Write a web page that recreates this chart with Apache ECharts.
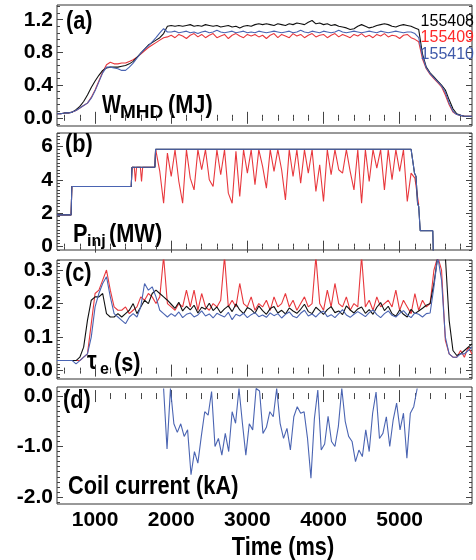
<!DOCTYPE html>
<html>
<head>
<meta charset="utf-8">
<script src="https://cdn.jsdelivr.net/npm/echarts@6/dist/echarts.min.js"></script>
<style>
html, body { margin: 0; padding: 0; background: #fff; }
#main { width: 476px; height: 560px; }
</style>
</head>
<body>
<div id="main"></div>
<script>
const FONT = '"Liberation Sans", Arial, Helvetica, sans-serif';

// sample times (ms)
function steps(start, end, step) {
    const out = [];
    for (let k = 0; start + k * step <= end + step / 1000; k++) {
        out.push(Math.round((start + k * step) * 10000) / 10000);
    }
    return out;
}
const t50 = steps(500, 5950, 50);

// (a) W_MHD (MJ)
const wmhd408 = [
    0.05, 0.05, 0.06, 0.06, 0.07, 0.10, 0.14, 0.20, 0.28, 0.37,
    0.45, 0.52, 0.58, 0.61, 0.62, 0.62, 0.62, 0.63, 0.64, 0.66,
    0.69, 0.74, 0.79, 0.84, 0.89, 0.92, 0.95, 0.98, 1.03, 1.12,
    1.13, 1.12, 1.13, 1.12, 1.13, 1.14, 1.12, 1.13, 1.12, 1.14,
    1.13, 1.12, 1.13, 1.11, 1.12, 1.13, 1.11, 1.12, 1.10, 1.12,
    1.13, 1.12, 1.14, 1.15, 1.14, 1.15, 1.14, 1.13, 1.15, 1.14,
    1.13, 1.15, 1.14, 1.16, 1.15, 1.14, 1.17, 1.19, 1.15, 1.16,
    1.14, 1.15, 1.13, 1.14, 1.12, 1.11, 1.10, 1.08, 1.09, 1.12,
    1.14, 1.12, 1.10, 1.11, 1.13, 1.14, 1.15, 1.14, 1.12, 1.11,
    1.13, 1.14, 1.13, 1.12, 1.10, 1.08, 0.78, 0.62, 0.55, 0.50,
    0.45, 0.40, 0.34, 0.22, 0.11, 0.05, 0.03, 0.02, 0.02, 0.02
];
const wmhd409 = [
    0.05, 0.05, 0.06, 0.06, 0.07, 0.09, 0.12, 0.15, 0.18, 0.25,
    0.34, 0.45, 0.56, 0.65, 0.68, 0.66, 0.66, 0.67, 0.67, 0.69,
    0.71, 0.74, 0.78, 0.82, 0.86, 0.89, 0.92, 0.95, 0.98, 0.99,
    1.01, 0.98, 1.02, 1.00, 0.97, 1.01, 1.03, 0.99, 1.02, 0.98,
    1.01, 1.03, 0.98, 1.00, 1.02, 0.97, 1.01, 1.03, 1.00, 0.98,
    1.02, 1.00, 1.02, 0.99, 1.01, 0.97, 1.01, 1.03, 0.98, 1.02,
    1.00, 0.98, 1.03, 1.00, 1.02, 0.98, 1.01, 1.03, 0.99, 1.01,
    1.02, 0.98, 1.01, 1.03, 0.99, 1.02, 1.00, 0.98, 1.02, 1.00,
    1.03, 0.99, 1.01, 0.98, 1.02, 1.00, 1.03, 0.99, 1.01, 1.00,
    0.97, 1.01, 1.02, 0.98, 0.96, 0.93, 0.72, 0.60, 0.53, 0.48,
    0.43, 0.38, 0.28, 0.16, 0.07, 0.04, 0.03, 0.02, 0.02, 0.02
];
const wmhd410 = [
    0.05, 0.05, 0.06, 0.06, 0.07, 0.09, 0.12, 0.15, 0.18, 0.24,
    0.33, 0.44, 0.55, 0.62, 0.62, 0.61, 0.60, 0.58, 0.58, 0.62,
    0.67, 0.73, 0.79, 0.84, 0.88, 0.93, 0.98, 1.04, 1.09, 1.05,
    1.05, 1.06, 1.04, 1.05, 1.06, 1.04, 1.05, 1.03, 1.05, 1.06,
    1.04, 1.05, 1.07, 1.05, 1.04, 1.05, 1.06, 1.04, 1.05, 1.06,
    1.04, 1.05, 1.04, 1.06, 1.05, 1.04, 1.05, 1.06, 1.05, 1.04,
    1.05, 1.06, 1.04, 1.05, 1.07, 1.05, 1.04, 1.06, 1.05, 1.04,
    1.06, 1.05, 1.04, 1.05, 1.07, 1.05, 1.04, 1.05, 1.06, 1.05,
    1.04, 1.05, 1.06, 1.05, 1.04, 1.06, 1.05, 1.04, 1.05, 1.06,
    1.05, 1.04, 1.05, 1.05, 1.03, 0.98, 0.75, 0.61, 0.54, 0.49,
    0.44, 0.39, 0.31, 0.18, 0.08, 0.04, 0.03, 0.02, 0.02, 0.02
];

// (b) P_inj (MW): 155408 and 155410 share the same waveform
const pinjTimes = [500, 685, 695, 1475, 1485, 1785, 1795, 5150, 5195, 5215, 5235, 5250, 5270, 5435, 5445];
const pinjShared = [1.9, 1.9, 3.6, 3.6, 4.75, 4.75, 5.83, 5.83, 4.4, 4.2, 2.6, 2.4, 0.95, 0.95, -1];
const pinjRedTimes = [500, 685, 695, 1475, 1485, 1515, 1530, 1545, 1595, 1610, 1625, 1785, 1795]
    .concat(steps(1850, 5250, 50));
const pinj409 = [
    1.9, 1.9, 3.6, 3.6, 4.75, 4.75, 3.9, 4.75, 4.75, 3.9, 4.75, 4.75, 5.83,
    4.5, 2.6, 5.6, 4.2, 5.8, 3.9, 2.6, 5.8, 4.1, 3.4,
    5.8, 4.6, 5.8, 4.0, 3.6, 5.8, 4.3, 5.8, 3.2, 2.6,
    5.7, 3.0, 5.8, 4.4, 5.8, 3.7, 5.8, 4.8, 3.5, 5.8,
    4.5, 5.8, 4.6, 2.8, 5.8, 4.2, 5.8, 3.8, 5.8, 4.4,
    5.8, 3.3, 4.9, 2.7, 5.8, 4.3, 5.8, 4.6, 4.4, 5.8,
    4.5, 3.4, 5.8, 2.6, 5.8, 3.9, 5.8, 4.7, 5.8, 3.4,
    5.8, 4.0, 5.8, 4.5, 5.8, 2.7, 4.4, 4.1, 2.5
];

// (c) tau_e (s)
const tau408 = [
    0.03, 0.03, 0.03, 0.03, 0.03, 0.03, 0.04, 0.07, 0.15, 0.21,
    0.22, 0.22, 0.23, 0.17, 0.16, 0.16, 0.17, 0.16, 0.17, 0.18,
    0.20, 0.17, 0.19, 0.21, 0.20, 0.23, 0.24, 0.23, 0.22, 0.21,
    0.198, 0.186, 0.204, 0.178, 0.192, 0.181, 0.195, 0.172, 0.189, 0.183,
    0.201, 0.179, 0.190, 0.172, 0.184, 0.193, 0.176, 0.199, 0.181, 0.170,
    0.188, 0.182, 0.171, 0.193, 0.179, 0.168, 0.185, 0.191, 0.172, 0.180,
    0.169, 0.187, 0.178, 0.171, 0.183, 0.198, 0.176, 0.170, 0.189, 0.179,
    0.168, 0.182, 0.191, 0.173, 0.178, 0.167, 0.193, 0.181, 0.172, 0.184,
    0.190, 0.171, 0.182, 0.168, 0.189, 0.203, 0.179, 0.192, 0.170, 0.162,
    0.181, 0.168, 0.160, 0.183, 0.170, 0.178, 0.186, 0.195, 0.200, 0.260,
    0.340, 0.340, 0.340, 0.150, 0.060, 0.045, 0.050, 0.060, 0.070, 0.080
];
const tau409 = [
    0.03, 0.03, 0.03, 0.03, 0.03, 0.03, 0.03, 0.04, 0.05, 0.14,
    0.23, 0.24, 0.27, 0.30, 0.24, 0.19, 0.18, 0.18, 0.19, 0.17,
    0.18, 0.19, 0.22, 0.21, 0.23, 0.22, 0.20, 0.22, 0.34, 0.20,
    0.19, 0.18, 0.20, 0.19, 0.24, 0.19, 0.24, 0.18, 0.23, 0.19,
    0.18, 0.20, 0.19, 0.21, 0.34, 0.19, 0.21, 0.19, 0.26, 0.20,
    0.19, 0.22, 0.18, 0.20, 0.19, 0.21, 0.18, 0.22, 0.19, 0.20,
    0.23, 0.19, 0.21, 0.18, 0.20, 0.22, 0.19, 0.20, 0.34, 0.20,
    0.18, 0.24, 0.19, 0.26, 0.20, 0.19, 0.22, 0.18, 0.20, 0.19,
    0.34, 0.19, 0.21, 0.18, 0.22, 0.19, 0.20, 0.21, 0.19, 0.24,
    0.18, 0.21, 0.19, 0.17, 0.23, 0.18, 0.21, 0.19, 0.20, 0.30,
    0.34, 0.30, 0.09, 0.05, 0.04, 0.04, 0.06, 0.04, 0.07, 0.05
];
const tau410 = [
    0.03, 0.03, 0.03, 0.03, 0.03, 0.02, 0.03, 0.04, 0.05, 0.10,
    0.19, 0.23, 0.26, 0.28, 0.22, 0.17, 0.16, 0.15, 0.14, 0.16,
    0.17, 0.16, 0.19, 0.26, 0.24, 0.25, 0.22, 0.18, 0.17, 0.16,
    0.170, 0.162, 0.175, 0.158, 0.168, 0.172, 0.160, 0.166, 0.178, 0.163,
    0.169, 0.157, 0.171, 0.165, 0.160, 0.174, 0.152, 0.168, 0.163, 0.171,
    0.158, 0.167, 0.173, 0.161, 0.166, 0.159, 0.172, 0.164, 0.170, 0.157,
    0.168, 0.175, 0.162, 0.158, 0.171, 0.180, 0.163, 0.169, 0.160, 0.172,
    0.178, 0.161, 0.167, 0.158, 0.170, 0.182, 0.166, 0.159, 0.168, 0.176,
    0.169, 0.161, 0.173, 0.181, 0.167, 0.158, 0.170, 0.178, 0.165, 0.160,
    0.171, 0.179, 0.166, 0.158, 0.172, 0.168, 0.160, 0.170, 0.172, 0.250,
    0.340, 0.270, 0.100, 0.050, 0.040, 0.040, 0.050, 0.050, 0.060, 0.070
];

// (d) coil current (kA), 155410 only
const coilTimes = steps(1900, 5230, 45);
const coil410 = [
    0.15, -1.05, 0.15, -0.55, -0.72, -0.55, -0.80, -0.67, -1.56, -1.10,
    -1.33, -0.80, -0.31, -0.38, 0.09, -1.00, -0.84, -1.17, -0.74, -1.10,
    -0.31, -0.54, 0.15, -0.54, -1.17, -0.55, -0.67, 0.15, 0.10, -0.74,
    -0.62, -0.31, -0.41, 0.15, -0.54, -0.84, -0.64, -1.07, -0.41, -0.21,
    -0.34, -0.31, -0.84, -1.63, -0.45, 0.12, -1.07, -0.95, -0.40, -0.90,
    -1.00, -0.60, 0.15, -0.50, -0.80, -0.90, -1.30, -1.07, -1.20, -0.67,
    -1.10, -0.34, 0.08, -0.84, -0.74, -0.41, -1.00, -0.47, -0.14, -0.67,
    -0.34, -1.23, -0.34, -0.21, 0.15
];

// axes
const xRange = [500, 5950];
const xMajor = [1000, 2000, 3000, 4000, 5000];
const xMinor = steps(600, 5800, 200);
const boxes = [[5, 121], [133, 117], [260, 119], [387, 117]];
const yRanges = [[-0.1, 1.38], [-0.2, 6.8], [-0.025, 0.33], [-2.14, 0.18]];
const yMajor = [[0, 0.4, 0.8, 1.2], [0, 2, 4, 6], [0, 0.1, 0.2, 0.3], [-2, -1, 0]];
const yMinorStep = [0.08, 0.2, 0.01, 0.1];
const yDigits = [1, 0, 1, 1];

const RED = "#e8383d";
const BLUE = "#4a64b2";
const BLACK = "#111";

const chart = echarts.init(document.getElementById("main"));

const labelFont = {
    color: "#000",
    fontFamily: FONT,
    fontWeight: "bold",
    fontSize: 21,
};
const tickStyle = { color: "#444", width: 1 };

let grids = [];
let xAxes = [];
let yAxes = [];
boxes.forEach((b, i) => {
    grids.push({
        left: 57,
        width: 415,
        top: b[0],
        height: b[1],
        show: true,
        borderColor: "#333",
        borderWidth: 1,
        outerBoundsMode: "none",
    });
    const last = i === boxes.length - 1;
    ["bottom", "top"].forEach((pos) => {
        [[xMajor, 6], [xMinor, 3]].forEach(([vals, len], j) => {
            xAxes.push({
                gridIndex: i,
                type: "value",
                position: pos,
                min: xRange[0],
                max: xRange[1],
                axisLine: { show: false },
                splitLine: { show: false },
                axisTick: { show: true, inside: true, length: len, customValues: vals, lineStyle: tickStyle },
                axisLabel: Object.assign(
                    {
                        show: last && pos === "bottom" && j === 0,
                        customValues: xMajor,
                        margin: 6,
                        formatter: (v) => String(v),
                    },
                    labelFont
                ),
            });
        });
    });
    const [ymin, ymax] = yRanges[i];
    const st = yMinorStep[i];
    const yMinor = steps(Math.ceil(ymin / st - 1e-9) * st, ymax, st);
    ["left", "right"].forEach((pos) => {
        [[yMajor[i], 6], [yMinor, 3]].forEach(([vals, len], j) => {
            yAxes.push({
                gridIndex: i,
                type: "value",
                position: pos,
                min: ymin,
                max: ymax,
                axisLine: { show: false },
                splitLine: { show: false },
                axisTick: { show: true, inside: true, length: len, customValues: vals, lineStyle: tickStyle },
                axisLabel: Object.assign(
                    {
                        show: pos === "left" && j === 0,
                        customValues: yMajor[i],
                        margin: 4,
                        formatter: (v) => Number(v).toFixed(yDigits[i]),
                    },
                    labelFont
                ),
            });
        });
    });
});

function line(name, color, g, times, values) {
    return {
        name: name,
        type: "line",
        xAxisIndex: g * 4,
        yAxisIndex: g * 4,
        data: values.map((v, k) => [times[k], v]),
        showSymbol: false,
        symbol: "none",
        lineStyle: { width: 1.1, color: color },
        itemStyle: { color: color },
        emphasis: { disabled: true },
        animation: false,
    };
}

const series = [
    line("155409", RED, 0, t50, wmhd409),
    line("155408", BLACK, 0, t50, wmhd408),
    line("155410", BLUE, 0, t50, wmhd410),
    line("155409", RED, 1, pinjRedTimes, pinj409),
    line("155408", BLACK, 1, pinjTimes, pinjShared),
    line("155410", BLUE, 1, pinjTimes, pinjShared),
    line("155409", RED, 2, t50, tau409),
    line("155408", BLACK, 2, t50, tau408),
    line("155410", BLUE, 2, t50, tau410),
    line("155410", BLUE, 3, coilTimes, coil410),
];

// bold narrow-looking labels: horizontally squeezed text
function txt(x, y, text, size, sx, extra) {
    return {
        type: "text",
        x: x,
        y: y,
        scaleX: sx,
        silent: true,
        style: Object.assign(
            {
                text: text,
                fontFamily: FONT,
                fontWeight: "bold",
                fontSize: size,
                fill: "#000",
                verticalAlign: "middle",
            },
            extra || {}
        ),
    };
}

const SQ = 0.87;
const graphics = [
    txt(66, 22, "(a)", 25, SQ),
    txt(65, 145, "(b)", 25, SQ),
    txt(65, 274, "(c)", 25, SQ),
    txt(63, 401, "(d)", 25, SQ),
    txt(102, 106, "W", 25, 0.8),
    txt(120, 113, "MHD", 19, 1),
    txt(168, 106, "(MJ)", 25, SQ),
    txt(73, 235, "P", 25, SQ),
    txt(87, 242, "inj", 16, 1),
    txt(109, 235, "(MW)", 25, SQ),
    txt(87, 362, "τ", 25, SQ),
    txt(100, 370, "e", 16, 1),
    txt(114, 364, "(s)", 25, SQ),
    txt(68, 487, "Coil current (kA)", 25, SQ),
    txt(283, 548, "Time (ms)", 25, SQ, { align: "center" }),
];

chart.setOption({
    backgroundColor: "#fff",
    animation: false,
    legend: {
        orient: "vertical",
        right: 2,
        top: 13,
        icon: "none",
        itemWidth: 0,
        itemHeight: 0,
        itemGap: 0,
        padding: 0,
        selectedMode: false,
        textStyle: { fontFamily: FONT, fontSize: 16, lineHeight: 16.5 },
        data: [
            { name: "155408", textStyle: { color: "#000" } },
            { name: "155409", textStyle: { color: "#ff2a2a" } },
            { name: "155410", textStyle: { color: "#3f5aaa" } },
        ],
    },
    grid: grids,
    xAxis: xAxes,
    yAxis: yAxes,
    series: series,
    graphic: graphics,
});
</script>
</body>
</html>
